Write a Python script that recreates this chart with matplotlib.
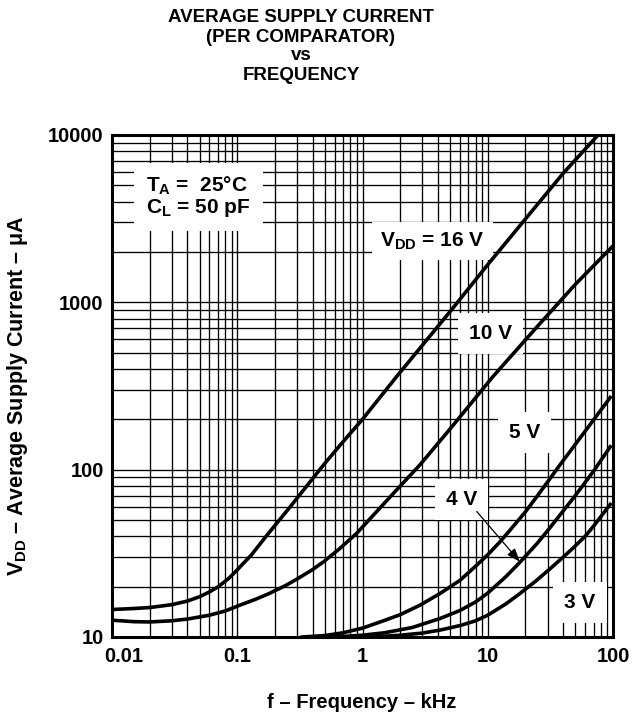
import matplotlib
matplotlib.use("Agg")
import matplotlib.pyplot as plt
import matplotlib.transforms as mtransforms
from matplotlib.ticker import LogLocator, NullFormatter

plt.rcParams['font.family'] = ['Liberation Sans', 'DejaVu Sans']
plt.rcParams['font.weight'] = 'bold'
plt.rcParams['mathtext.fontset'] = 'custom'
plt.rcParams['mathtext.rm'] = 'Liberation Sans:bold'
plt.rcParams['mathtext.it'] = 'Liberation Sans:bold'
plt.rcParams['mathtext.bf'] = 'Liberation Sans:bold'

# frequency (kHz) and supply current (uA)
f_16 = [0.01, 0.015, 0.02, 0.03, 0.04, 0.05, 0.06, 0.07, 0.085, 0.1, 0.13, 0.17,
        0.26, 0.35, 0.49, 0.7, 1.0, 1.9, 5, 10, 20, 40, 76]
i_16 = [14.6, 14.8, 15.0, 15.6, 16.4, 17.4, 18.6, 19.9, 22.3, 25.2, 31, 40,
        59, 78, 107, 147, 200, 365, 880, 1680, 3150, 5900, 10000]

f_10 = [0.01, 0.015, 0.02, 0.03, 0.04, 0.06, 0.08, 0.105, 0.14, 0.18, 0.24, 0.3,
        0.4, 0.49, 0.65, 0.9, 1.25, 1.76, 2.88, 5, 11, 25, 50, 98]
i_10 = [12.6, 12.35, 12.3, 12.5, 12.8, 13.5, 14.3, 15.5, 16.8, 18.2, 20.2, 22.2,
        25.3, 28.2, 33.5, 41.7, 54.5, 72, 107, 175, 360, 720, 1280, 2140]

f_5 = [0.33, 0.5, 0.7, 1.0, 1.47, 2.0, 2.88, 4.16, 6.0, 8, 10, 12.5, 15.1, 20, 25,
       37.8, 60, 95]
i_5 = [10, 10.2, 10.6, 11.3, 12.5, 13.6, 15.5, 18.2, 21.8, 26.5, 31, 37, 43.6, 56, 70,
       107, 170, 270]

f_4 = [0.6, 1.0, 1.5, 2.5, 4.16, 6, 8, 10, 14, 18.1, 25, 31.4, 50, 70, 95]
i_4 = [10, 10.25, 10.6, 11.4, 12.9, 14.4, 16.2, 18.3, 23, 28, 36.5, 45, 70, 98, 137]

f_3 = [1.2, 2, 3, 4.16, 6, 8, 10, 14, 18.1, 24, 30, 40, 48, 60, 70, 95]
i_3 = [10, 10.25, 10.55, 11, 11.7, 12.5, 13.5, 15.8, 18.2, 21.5, 24.8, 30, 34, 40, 46, 62]

xticks = [0.01, 0.1, 1, 10, 100]
xticklabels = ['0.01', '0.1', '1', '10', '100']
yticks = [10, 100, 1000, 10000]
yticklabels = ['10', '100', '1000', '10000']

fig = plt.figure(figsize=(6.37, 7.13), dpi=100)
ax = fig.add_axes([112 / 637, 1 - 637 / 713, 501 / 637, 502 / 713])
ax.set_xscale('log')
ax.set_yscale('log')
ax.set_xlim(0.01, 100)
ax.set_ylim(10, 10000)

ax.xaxis.set_minor_locator(LogLocator(base=10, subs=range(2, 10)))
ax.yaxis.set_minor_locator(LogLocator(base=10, subs=range(2, 10)))
ax.xaxis.set_minor_formatter(NullFormatter())
ax.yaxis.set_minor_formatter(NullFormatter())
ax.grid(True, which='both', color='black', linewidth=0.95)
ax.set_axisbelow(True)

ax.set_xticks(xticks)
ax.set_xticklabels(xticklabels)
ax.set_yticks(yticks)
ax.set_yticklabels(yticklabels)
ax.tick_params(which='both', length=0)
ax.tick_params(axis='x', labelsize=14.5, pad=7)
ax.tick_params(axis='y', labelsize=14.5, pad=6)
for spine in ax.spines.values():
    spine.set_linewidth(2.2)

# first x label sits a bit to the right in the original
lab0 = ax.get_xticklabels()[0]
lab0.set_transform(lab0.get_transform() + mtransforms.ScaledTranslation(0.12, 0, fig.dpi_scale_trans))

for f, i in [(f_16, i_16), (f_10, i_10), (f_5, i_5), (f_4, i_4), (f_3, i_3)]:
    ax.plot(f, i, color='black', linewidth=2.6, solid_joinstyle='round', zorder=5)

def label(x, y, s, pad=8, **kw):
    ax.text(x, y, s, transform=ax.transAxes, fontsize=15, ha='center', va='center',
            bbox=dict(facecolor='white', edgecolor='none', pad=pad), zorder=4, **kw)

label(0.172, 0.877, 'T$_{A}$ =  25°C\nC$_{L}$ = 50 pF', pad=9, linespacing=1.0,
      multialignment='left')
label(0.639, 0.789, 'V$_{DD}$ = 16 V', pad=6)
label(0.756, 0.604, '10 V')
label(0.824, 0.408, '5 V')
label(0.697, 0.273, '4 V')
label(0.934, 0.068, '3 V')
ax.annotate('', xy=(0.814, 0.150), xytext=(0.728, 0.250), xycoords='axes fraction',
            arrowprops=dict(arrowstyle='-|>,head_length=0.8,head_width=0.3',
                            color='black', linewidth=0.9, shrinkA=0, shrinkB=0), zorder=6)

title_lines = ['AVERAGE SUPPLY CURRENT', '(PER COMPARATOR)', 'vs', 'FREQUENCY']
for n, line in enumerate(title_lines):
    fig.text(301 / 637, 1 - (18 + 19 * n) / 713, line, fontsize=13.5,
             ha='center', va='center')

fig.text(362 / 637, 1 - 703 / 713, 'f – Frequency – kHz', fontsize=14.5,
         ha='center', va='center')
fig.text(18 / 637, 1 - 396 / 713, 'V$_{DD}$ – Average Supply Current – μA', fontsize=15.5,
         ha='center', va='center', rotation=90)

fig.savefig('out.png', dpi=100)
